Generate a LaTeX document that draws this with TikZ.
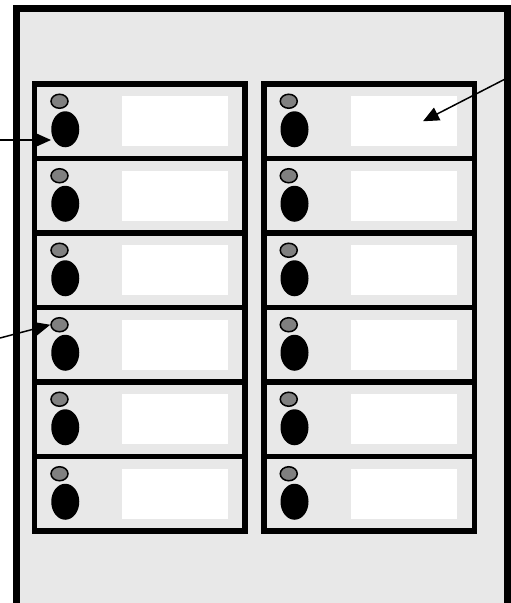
\documentclass[tikz,border=0pt]{standalone}
\usetikzlibrary{arrows.meta,shapes.geometric}
\definecolor{panelgray}{HTML}{E8E8E8}
\definecolor{ledgray}{HTML}{808080}

\begin{document}
\begin{tikzpicture}[x=1pt,y=-1pt,
    slot/.style={draw,line width=5.5pt,fill=panelgray,minimum width=210.5pt,minimum height=74.5pt,inner sep=0pt},
    tag/.style={fill=white,minimum width=106pt,minimum height=50pt,inner sep=0pt},
    led/.style={ellipse,draw,line width=1.5pt,fill=ledgray,minimum width=17pt,minimum height=14pt,inner sep=0pt},
    knob/.style={ellipse,fill=black,minimum width=28pt,minimum height=36pt,inner sep=0pt},
    arr/.style={-{Triangle[length=16pt,width=14pt]},line width=1.5pt}]
  \useasboundingbox (0,0) rectangle (511,603);
  % housing, open at the bottom
  \fill[panelgray] (16.5,8.5) rectangle (507.5,603);
  \draw[line width=7pt] (16.5,603) -- (16.5,8.5) -- (507.5,8.5) -- (507.5,603);
  % two columns of six slots
  \foreach \col/\cx in {L/139.75,R/369} {
    \foreach \i in {1,...,6} {
      \node[slot] (slot\col\i) at (\cx,{84+74.5*(\i-0.5)}) {};
      \node[tag] (tag\col\i) at ([xshift=35pt]slot\col\i.center) {};
      \node[led] (led\col\i) at ([xshift=27.75pt,yshift=20pt]slot\col\i.west) {};
      \node[knob] (knob\col\i) at ([xshift=33.5pt,yshift=-8pt]slot\col\i.west) {};
    }
  }
  % pointers
  \coordinate (ptA) at (0,140);
  \coordinate (ptB) at (0,338);
  \coordinate (ptC) at (511,76);
  \draw[arr] (ptA) -- (ptA -| knobL1.west);
  \draw[arr] (ptB) -- (ledL4.west);
  \draw[arr] (ptC) -- ([xshift=19pt]tagR1.center);
\end{tikzpicture}
\end{document}
